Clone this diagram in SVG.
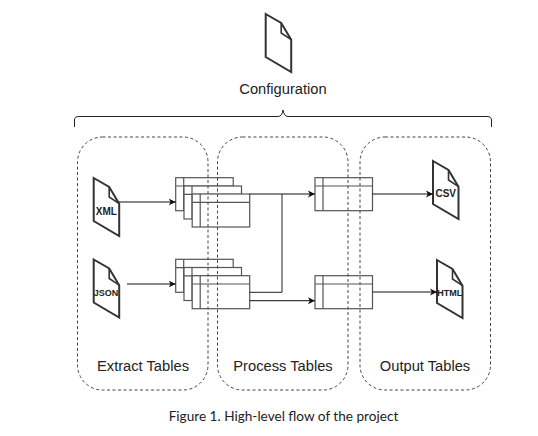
<svg xmlns="http://www.w3.org/2000/svg" width="538" height="436" viewBox="0 0 538 436">
<style>
.doc{fill:#fff;stroke:#333;stroke-width:2;stroke-linejoin:miter}
.fold{fill:none;stroke:#333;stroke-width:1.6}
.tb{fill:none;stroke:#555;stroke-width:1.2}
.tw{fill:#fff;stroke:#555;stroke-width:1.2}
.group{fill:none;stroke:#444;stroke-width:1;stroke-dasharray:3 2.500}
.edge{fill:none;stroke:#111;stroke-width:1;marker-end:url(#arr)}
.line{fill:none;stroke:#222;stroke-width:1}
.lab{font-family:"Liberation Sans",Arial,sans-serif;font-size:14.700px;fill:#222;text-anchor:middle}
.dl{font-family:"Liberation Sans",Arial,sans-serif;font-size:10px;font-weight:bold;fill:#222;text-anchor:middle}
.sm{font-size:9px}
.cap{font-family:Lato,"Noto Sans",sans-serif;font-size:13.600px;fill:#222;text-anchor:middle}
</style>
<defs>
<marker id="arr" markerUnits="userSpaceOnUse" markerWidth="8" markerHeight="8" refX="7" refY="4" orient="auto"><path d="M0 0.5L7 4L0 7.500L1.800 4Z" fill="#111"/></marker>
<g id="d"><path class="doc" d="M0 0L15.500 9L25.500 25.700V58L0 43Z"/><path class="fold" d="M15.500 9V19L25.500 25.700"/></g>
<g id="t"><rect class="tw" x="0" y="0" width="57.500" height="33"/><path class="tb" d="M0 8.300H57.500M8 0V33"/></g>
</defs>
<g id="brace"><path class="line" d="M74.500 127V120Q74.500 116.500 79 116.500H278Q282 116.500 283 110Q284 116.500 288 116.500H487Q491.500 116.500 491.500 120V127" stroke-width="1.200"/></g>
<g id="config"><use href="#d" x="265.700" y="14"/><text class="lab" x="283" y="93.500">Configuration</text></g>
<g id="table-a1"><use href="#t" x="175.700" y="177.700"/></g>
<g id="table-a2"><use href="#t" x="184" y="186"/></g>
<g id="table-a3"><use href="#t" x="192.200" y="194"/></g>
<g id="table-b1"><use href="#t" x="175.700" y="259.300"/></g>
<g id="table-b2"><use href="#t" x="184" y="267.500"/></g>
<g id="table-b3"><use href="#t" x="192.200" y="275.700"/></g>
<g id="table-c"><use href="#t" x="315" y="177.700"/></g>
<g id="table-d"><use href="#t" x="315" y="275.700"/></g>
<g id="extract"><rect class="group" x="77.500" y="137" width="130.500" height="253" rx="25"/><text class="lab" x="143" y="371">Extract Tables</text></g>
<g id="process"><rect class="group" x="217.500" y="137" width="130.500" height="253" rx="25"/><text class="lab" x="283" y="371">Process Tables</text></g>
<g id="output"><rect class="group" x="360" y="137" width="130.500" height="253" rx="25"/><text class="lab" x="425" y="371">Output Tables</text></g>
<g id="xml"><use href="#d" x="93.700" y="178"/><text class="dl" x="106.300" y="215">XML</text></g>
<g id="json"><use href="#d" x="93.700" y="259.500"/><text class="dl sm" x="106" y="296.300">JSON</text></g>
<g id="csv"><use href="#d" x="433" y="161"/><text class="dl" x="445.700" y="197">CSV</text></g>
<g id="html"><use href="#d" x="437" y="260"/><text class="dl sm" x="449.700" y="296">HTML</text></g>
<g id="connectors">
<path class="edge" d="M119 202H175.700"/>
<path class="edge" d="M127 284H175.700"/>
<path class="edge" d="M249.700 194H315"/>
<path class="line" d="M249.700 292.300H282V194"/>
<path class="edge" d="M249.700 300.700H315"/>
<path class="edge" d="M372.500 194H433"/>
<path class="edge" d="M372.500 292H437"/>
</g>
<text class="cap" x="283.500" y="421">Figure 1. High-level flow of the project</text>
</svg>
